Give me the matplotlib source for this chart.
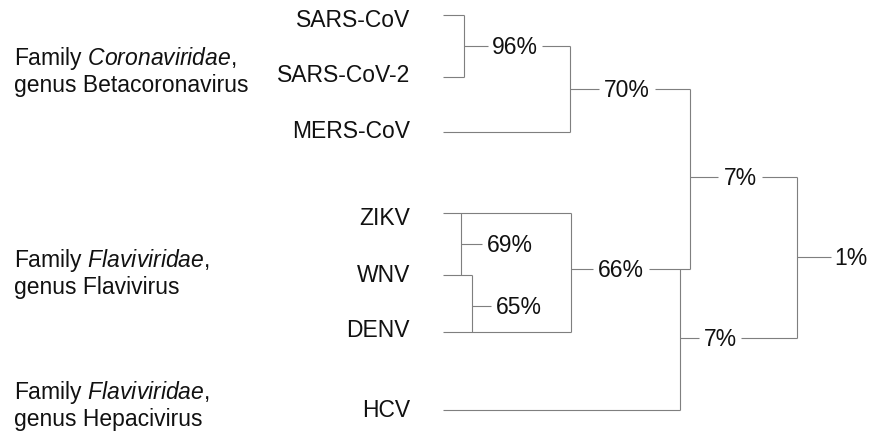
import matplotlib
matplotlib.use("Agg")
import matplotlib.pyplot as plt

plt.rcParams['font.family'] = ['Liberation Sans', 'DejaVu Sans']
plt.rcParams['mathtext.fontset'] = 'custom'
plt.rcParams['mathtext.rm'] = 'Liberation Sans'
plt.rcParams['mathtext.it'] = 'Liberation Sans:italic'

# --- data ---
leaves = ["SARS-CoV", "SARS-CoV-2", "MERS-CoV", "ZIKV", "WNV", "DENV", "HCV"]
identity = ["96%", "70%", "69%", "65%", "66%", "7%", "7%", "1%"]
families = [
    ("Family $\\mathit{Coronaviridae}$,", "genus Betacoronavirus"),
    ("Family $\\mathit{Flaviviridae}$,", "genus Flavivirus"),
    ("Family $\\mathit{Flaviviridae}$,", "genus Hepacivirus"),
]

# --- layout (pixels, y downwards) ---
W, H = 871, 434
leaf_y = [15, 77, 132, 213, 275, 332, 410]        # branch lines
leaf_base = [27, 82, 138, 225, 282, 337, 417]     # text baselines
leaf_end = [464, 464, 570, 571, 472, 571, 680]    # where each leaf branch joins
leaf_text_x = 410
leaf_line_x = 443

# node: vertical x, top, bottom, stem y, label centre x, stem end x (None = stops at label)
nodes = [
    (464, 15, 77, 46, 515, 570),
    (570, 46, 132, 89, 627, 690),
    (461, 213, 275, 244, 510, None),
    (472, 275, 332, 306, 519, None),
    (571, 213, 332, 269, 621, 690),
    (690, 89, 269, 177, 740, 797),
    (680, 269, 410, 338, 720, 797),
    (797, 177, 338, 257, 851, None),
]
label_half = [22, 23, 23, 23, 23, 17, 16, 15]

family_x = 14
family_base = [(65, 92), (267, 294), (399, 426)]

line_kw = dict(color="#7f7f7f", lw=0.8, solid_capstyle="butt")
fs = 16.5

fig = plt.figure(figsize=(W / 100, H / 100), dpi=100)
ax = fig.add_axes([0, 0, 1, 1])
ax.set_xlim(0, W)
ax.set_ylim(H, 0)
ax.axis("off")

# leaves
for name, y, yb, xe in zip(leaves, leaf_y, leaf_base, leaf_end):
    ax.plot([leaf_line_x, xe], [y, y], **line_kw)
    ax.text(leaf_text_x, yb, name, ha="right", va="baseline", fontsize=fs, color="#111111")

# internal nodes
for (xv, y0, y1, ym, lx, xe), lab, hw in zip(nodes, identity, label_half):
    ax.plot([xv, xv], [y0, y1], **line_kw)
    ax.plot([xv, lx - hw - 5], [ym, ym], **line_kw)
    if xe is not None:
        ax.plot([lx + hw + 5, xe], [ym, ym], **line_kw)
    ax.text(lx, ym + 8, lab, ha="center", va="baseline", fontsize=fs, color="#111111")

# family annotations
for (l1, l2), (b1, b2) in zip(families, family_base):
    ax.text(family_x, b1, l1, ha="left", va="baseline", fontsize=fs, color="#111111")
    ax.text(family_x, b2, l2, ha="left", va="baseline", fontsize=fs, color="#111111")

fig.savefig("out.png", dpi=100)
